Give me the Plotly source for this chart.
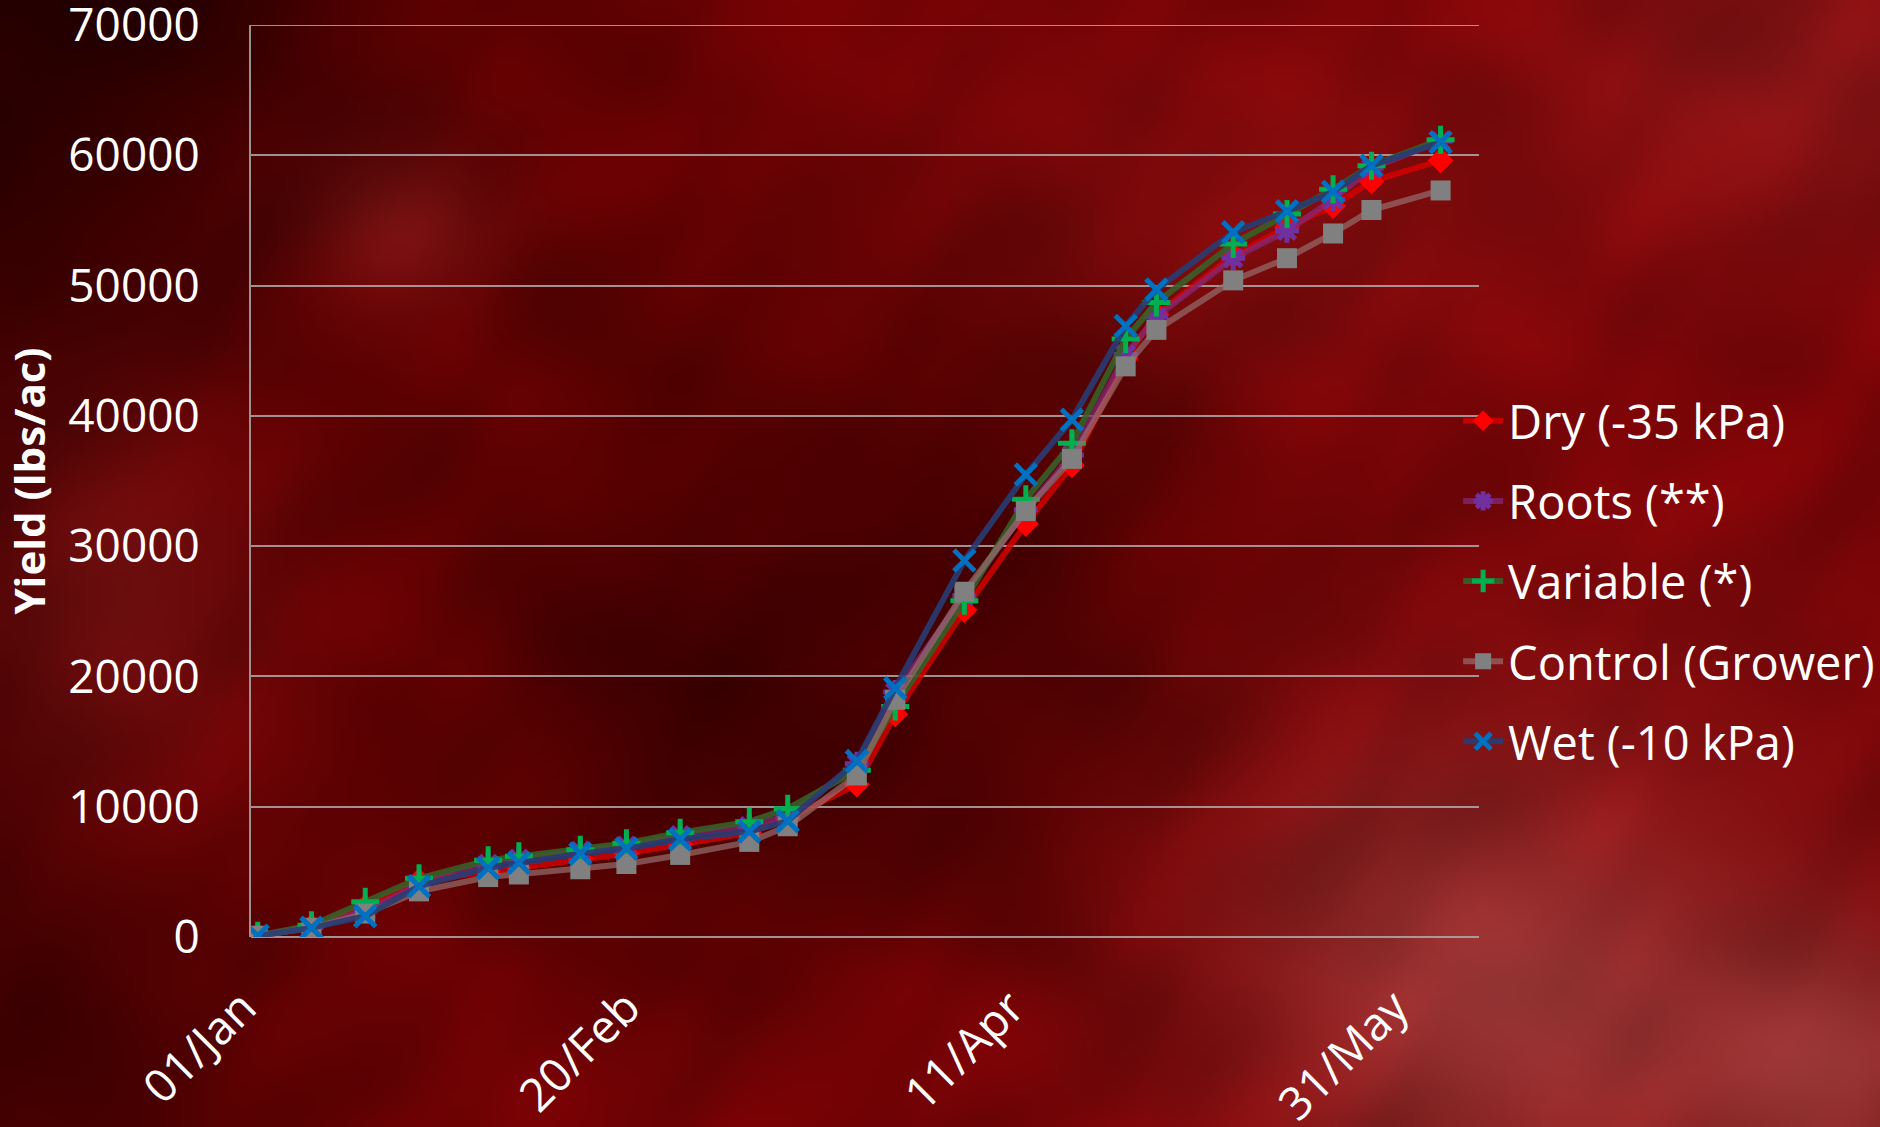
import base64
import struct
import zlib

import numpy as np
import plotly.graph_objects as go

# Sampling dates (non-leap season)
dates = ["2015-01-01", "2015-01-08", "2015-01-15", "2015-01-22", "2015-01-31",
         "2015-02-04", "2015-02-12", "2015-02-18", "2015-02-25", "2015-03-06",
         "2015-03-11", "2015-03-20", "2015-03-25", "2015-04-03", "2015-04-11",
         "2015-04-17", "2015-04-24", "2015-04-28", "2015-05-08", "2015-05-15",
         "2015-05-21", "2015-05-26", "2015-06-04"]

# Cumulative yield (lbs/ac) per irrigation treatment
dry = [100, 800, 2300, 4300, 5000, 5300, 6000, 6400, 7100, 8000, 9100, 11700,
       17100, 25100, 31700, 36200, 44400, 47800, 52300, 54500, 56100, 58000, 59600]
roots = [100, 750, 2000, 4000, 5600, 6000, 6600, 7000, 7800, 8500, 9300, 13300,
         18800, 26200, 32800, 37000, 44700, 47600, 52100, 54200, 56600, 59000, 61100]
variable = [100, 900, 2700, 4500, 5900, 6200, 6700, 7200, 8000, 8850, 9850, 12800,
            17700, 25800, 33600, 37900, 45900, 48700, 53200, 55500, 57400, 59200, 61200]
control = [100, 700, 1800, 3500, 4600, 4800, 5200, 5600, 6300, 7300, 8500, 12400,
           18200, 26500, 32700, 36700, 43800, 46600, 50400, 52100, 54000, 55800, 57300]
wet = [100, 700, 1600, 3900, 5300, 5700, 6400, 6800, 7500, 8100, 8900, 13500,
       19100, 28900, 35500, 39700, 46900, 49700, 54100, 55700, 57200, 59200, 61000]

series_names = ["Dry (-35 kPa)", "Roots (**)", "Variable (*)",
                "Control (Grower)", "Wet (-10 kPa)"]

y_ticks = [0, 10000, 20000, 30000, 40000, 50000, 60000, 70000]

W, H = 1880, 1127
L, R, T, B = 251, 401, 25, 190
FONT = "Open Sans"
GRID = "rgba(175,170,170,0.85)"


def png_data_uri(rgb):
    h, w, _ = rgb.shape
    raw = b"".join(b"\x00" + rgb[r].tobytes() for r in range(h))

    def chunk(tag, data):
        c = struct.pack(">I", len(data)) + tag + data
        return c + struct.pack(">I", zlib.crc32(tag + data) & 0xFFFFFFFF)

    png = (b"\x89PNG\r\n\x1a\n"
           + chunk(b"IHDR", struct.pack(">IIBBBBB", w, h, 8, 2, 0, 0, 0))
           + chunk(b"IDAT", zlib.compress(raw, 9))
           + chunk(b"IEND", b""))
    return "data:image/png;base64," + base64.b64encode(png).decode()


def cloudy_background():
    # low-res mottled dark-red backdrop, scaled up smoothly by the browser
    s = 8
    h, w = H // s + 1, W // s + 1
    yy, xx = np.mgrid[0:h, 0:w] * s
    img = np.zeros((h, w, 3)) + np.array([118, 2, 4], float)
    blobs = [
        # (cx, cy, sx, sy, strength, colour)
        (0, 0, 300, 240, 0.97, (18, 0, 0)),
        (0, 600, 120, 700, 0.6, (45, 0, 0)),
        (80, 1100, 200, 160, 0.5, (40, 0, 0)),
        (760, 700, 280, 210, 0.75, (45, 0, 0)),
        (1020, 420, 170, 180, 0.5, (55, 0, 0)),
        (560, 330, 220, 160, 0.35, (70, 0, 0)),
        (420, 90, 300, 110, 0.3, (85, 0, 0)),
        (400, 220, 70, 60, 0.45, (150, 35, 35)),
        (1300, 230, 200, 120, 0.35, (150, 30, 30)),
        (1150, 100, 250, 120, 0.3, (140, 12, 14)),
        (1800, 80, 180, 140, 0.5, (150, 40, 40)),
        (1500, 990, 190, 170, 0.7, (172, 82, 80)),
        (1830, 1060, 120, 100, 0.55, (175, 90, 88)),
        (1650, 700, 250, 160, 0.3, (140, 25, 25)),
        (120, 600, 100, 130, 0.4, (145, 32, 32)),
        (1000, 1100, 350, 120, 0.3, (125, 5, 8)),
        (1700, 420, 220, 260, 0.3, (128, 6, 10)),
    ]
    for cx, cy, sx, sy, k, col in blobs:
        wgt = k * np.exp(-((xx - cx) ** 2 / (2 * sx ** 2) + (yy - cy) ** 2 / (2 * sy ** 2)))
        img = img * (1 - wgt[..., None]) + np.array(col, float) * wgt[..., None]
    # soft cloud mottling
    mott = (np.sin(xx / 61.0 + np.cos(yy / 47.0) * 1.7)
            + np.sin(yy / 53.0 - np.sin(xx / 83.0) * 2.1)
            + 0.6 * np.sin((xx + yy) / 29.0 + np.sin(xx / 37.0)))
    img *= (1 + 0.05 * mott)[..., None]
    return png_data_uri(np.clip(img, 0, 255).astype(np.uint8))


styles = [
    # line colour, marker symbol, marker colour, size, marker line width
    ("rgba(210,0,0,0.85)", "diamond", "#ff0000", 20, 0),
    ("rgba(130,40,120,0.75)", "asterisk-open", "#7030a0", 20, 5),
    ("rgba(55,95,40,0.9)", "cross-thin-open", "#00b050", 20, 5),
    ("rgba(150,110,110,0.7)", "square", "#808080", 20, 0),
    ("rgba(40,60,115,0.9)", "x-thin-open", "#0070c0", 21, 5),
]

fig = go.Figure()
for name, ys, (lc, sym, mc, size, mlw) in zip(
        series_names, [dry, roots, variable, control, wet], styles):
    marker = dict(symbol=sym, size=size, color=mc)
    if mlw:
        marker["line"] = dict(color=mc, width=mlw)
    fig.add_trace(go.Scatter(
        x=dates, y=ys, name=name, mode="lines+markers",
        line=dict(color=lc, width=6), marker=marker, legendgroup=name,
    ))

fig.add_layout_image(dict(
    source=cloudy_background(), xref="paper", yref="paper",
    x=-L / (W - L - R), y=1 + T / (H - T - B),
    sizex=W / (W - L - R), sizey=H / (H - T - B),
    xanchor="left", yanchor="top", sizing="stretch", layer="below",
))

# top gridline sits on the plot edge, draw it explicitly
fig.add_shape(type="line", xref="paper", yref="y", x0=0, x1=1,
              y0=y_ticks[-1], y1=y_ticks[-1], layer="below",
              line=dict(color=GRID, width=2))

fig.update_layout(
    width=W, height=H,
    margin=dict(l=L, r=R, t=T, b=B, autoexpand=False),
    paper_bgcolor="#5a0000", plot_bgcolor="rgba(0,0,0,0)",
    font=dict(family=FONT, color="white", size=44),
    showlegend=True,
    legend=dict(
        x=0.983, y=0.39, xanchor="left", yanchor="middle",
        bgcolor="rgba(0,0,0,0)", font=dict(size=47, color="white"),
        tracegroupgap=16, itemwidth=40,
    ),
    xaxis=dict(
        type="date",
        range=["2014-12-31 03:00", "2015-06-09"],
        tick0="2015-01-01", dtick=50 * 86400000,
        tickformat="%d/%b", tickangle=-45,
        tickfont=dict(size=46, color="white"),
        ticks="outside", ticklen=24, tickcolor="rgba(0,0,0,0)",
        ticklabelshift=-15, ticklabeloverflow="allow",
        showgrid=False, showline=False, zeroline=False,
    ),
    yaxis=dict(
        range=[0, 70000], tickvals=y_ticks,
        tickformat="d", ticklabeloverflow="allow",
        tickfont=dict(size=46, color="white"),
        ticks="outside", ticklen=40, tickcolor="rgba(0,0,0,0)",
        showgrid=True, gridcolor=GRID, gridwidth=2,
        zeroline=True, zerolinecolor=GRID, zerolinewidth=2,
        showline=True, linecolor="rgba(165,160,160,0.9)", linewidth=2,
        title=dict(text="<b>Yield (lbs/ac)</b>", font=dict(size=42, color="white"),
                   standoff=12),
    ),
)

fig.write_html("out.html")
